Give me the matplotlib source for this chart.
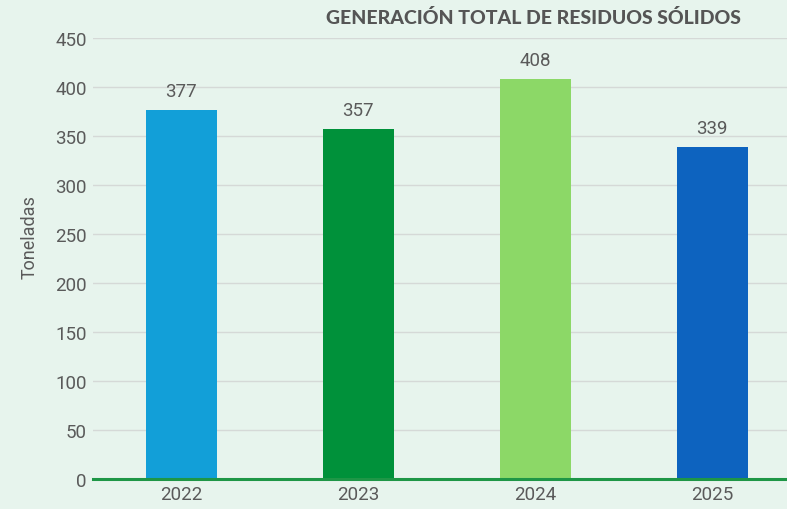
import matplotlib.pyplot as plt

# Generación total de residuos sólidos por año (toneladas)
years = ['2022', '2023', '2024', '2025']
tons = [377, 357, 408, 339]
colors = ['#129FD8', '#00913A', '#8CD867', '#0D63BF']

bg = '#E7F4ED'
plt.rcParams['font.family'] = ['Roboto', 'DejaVu Sans']

fig = plt.figure(figsize=(7.87, 5.10), dpi=100, facecolor=bg)
ax = fig.add_axes([0.118, 0.0588, 0.8996, 0.8647], facecolor=bg)

x = range(len(years))
bars = ax.bar(x, tons, width=0.4, color=colors, zorder=2)

for b, v in zip(bars, tons):
    ax.annotate(str(v), (b.get_x() + b.get_width() / 2, v),
                xytext=(0, 7), textcoords='offset points',
                ha='center', va='bottom', fontsize=13.5, color='#5A5A5A')

ax.set_xlim(-0.5, 3.5)
ax.set_ylim(0, 450)
ax.set_yticks(range(0, 451, 50))
ax.set_xticks(list(x))
ax.set_xticklabels(years)
ax.tick_params(length=0, labelsize=13.5, labelcolor='#5A5A5A', pad=4.5)
ax.yaxis.grid(True, color='#D5D9D7', linewidth=1, zorder=0)

for s in ['top', 'right', 'left']:
    ax.spines[s].set_visible(False)
ax.spines['bottom'].set_color('#1E9646')
ax.spines['bottom'].set_linewidth(2.2)
ax.spines['bottom'].set_zorder(3)

ax.set_ylabel('Toneladas', fontsize=13, color='#5A5A5A')
ax.yaxis.set_label_coords(-0.077, 0.551)

fig.text(0.942, 0.965, 'GENERACIÓN TOTAL DE RESIDUOS SÓLIDOS',
         ha='right', va='center', fontsize=14, fontweight='black',
         family=['Lato', 'DejaVu Sans'], color='#555555')

fig.savefig('out.png', dpi=100, facecolor=bg)
